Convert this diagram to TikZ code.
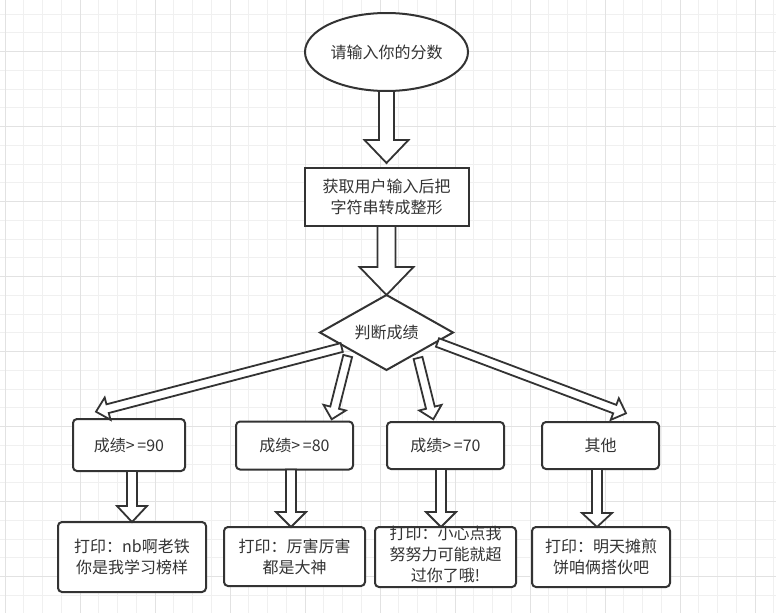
\documentclass[tikz,border=0pt]{standalone}
\usepackage{fontspec}
\setmainfont{Noto Sans CJK SC}
\usetikzlibrary{calc,positioning,shapes.geometric}

\definecolor{inkgray}{HTML}{333333}
\definecolor{gridminor}{HTML}{F0F0F0}
\definecolor{gridmajor}{HTML}{E2E2E2}

% hollow block arrow: from, to, half shaft, half head, head length
\newcommand\fatarrow[5]{%
  \coordinate (fa-base) at ($(#2)!#5!(#1)$);
  \draw[fatline] ($(#1)!#3!90:(#2)$) -- ($(fa-base)!#3!90:(#2)$)
    -- ($(fa-base)!#4!90:(#2)$) -- (#2) -- ($(fa-base)!#4!-90:(#2)$)
    -- ($(fa-base)!#3!-90:(#2)$) -- ($(#1)!#3!-90:(#2)$) -- cycle;
}

\begin{document}
\begin{tikzpicture}[
x=1pt, y=-1pt,
every node/.style={font=\fontsize{16}{21}\selectfont, text=inkgray, outer sep=0pt},
startoval/.style={ellipse, draw=inkgray, fill=white, line width=2pt, minimum width=163pt, minimum height=78pt, inner sep=0pt},
stepbox/.style={draw=inkgray, fill=white, line width=2pt, align=center, minimum width=164pt, minimum height=58pt, inner sep=0pt},
judgebox/.style={diamond, aspect=1.77, draw=inkgray, fill=white, line width=2pt, minimum width=133pt, minimum height=75pt, inner sep=0pt},
casebox/.style={draw=inkgray, fill=white, line width=2pt, rounded corners=4pt, minimum width=117pt, minimum height=47pt, inner sep=0pt},
printbox/.style={casebox, align=center, minimum width=141pt, minimum height=60pt},
fatline/.style={draw=inkgray, fill=white, line width=1.8pt, line join=miter},
gridline/.style={draw=gridminor, line width=1pt}
]
\useasboundingbox (0,0) rectangle (776,613);
\fill[white] (0,0) rectangle (776,613);

% background grid
\foreach \k in {0,...,41} \draw[gridline] ({5+18.75*\k},0) -- ({5+18.75*\k},613);
\foreach \k in {0,...,31} \draw[gridline] (0,{14+18.75*\k}) -- (776,{14+18.75*\k});
\foreach \k in {0,...,10} \draw[gridline, draw=gridmajor] ({5+75*\k},0) -- ({5+75*\k},613);
\foreach \k in {0,...,7} \draw[gridline, draw=gridmajor] (0,{51.5+75*\k}) -- (776,{51.5+75*\k});

\node[startoval] (ask) at (386.5,52) {请输入你的分数};
\node[stepbox, below=77pt of ask] (conv) {获取用户输入后把\\字符串转成整形};
\node[judgebox, below=69pt of conv] (judge) {判断成绩};

\node[casebox, minimum width=112pt, minimum height=52pt] (c90) at (129,445) {成绩>\,=90};
\node[casebox, minimum height=48pt] (c80) at (294.5,445.5) {成绩>\,=80};
\node[casebox] (c70) at (445.5,445.5) {成绩>\,=70};
\node[casebox] (cother) at (600.5,445.5) {其他};

\node[printbox, minimum width=148pt, minimum height=70pt] (p90) at (132,557) {打印：nb啊老铁\\你是我学习榜样};
\node[printbox, minimum height=59pt] (p80) at (294.5,556.5) {打印：厉害厉害\\都是大神};
\node[printbox] (p70) at (445.5,557) {\smash{\raisebox{-4pt}{\begin{tabular}{@{}c@{}}打印：小心点我\\努努力可能就超\\过你了哦!\end{tabular}}}};
\node[printbox, minimum width=138pt] (pother) at (601,557) {打印：明天摊煎\\饼咱俩搭伙吧};

% arrows
\coordinate (t1) at ($(conv.north)+(0,-5)$);
\fatarrow{ask.south}{t1}{7.5pt}{22pt}{23pt}
\fatarrow{conv.south}{judge.north}{9pt}{27pt}{28pt}

\coordinate (j90) at (341.7,347.5);
\coordinate (t90) at (96,411.7);
\coordinate (j80) at (347.7,356);
\coordinate (t80) at (331.7,419.3);
\coordinate (j70) at (418,358);
\coordinate (t70) at (433.3,419.3);
\coordinate (jother) at (437.5,342.5);
\coordinate (tother) at (626,413.3);
\fatarrow{j90}{t90}{4.5pt}{11.5pt}{12pt}
\fatarrow{j80}{t80}{4.5pt}{11.5pt}{12pt}
\fatarrow{j70}{t70}{4.5pt}{11.5pt}{12pt}
\fatarrow{jother}{tother}{4.5pt}{11.5pt}{12pt}

\coordinate (s90) at (c90.south -| p90.north);
\coordinate (s80) at ($(c80.south)+(-3.5,0)$);
\coordinate (e80) at ($(p80.north)+(-3.5,0)$);
\coordinate (s70) at ($(c70.south)+(-4.5,0)$);
\coordinate (e70) at ($(p70.north)+(-4.5,0)$);
\coordinate (sother) at ($(cother.south)+(-3.5,0)$);
\coordinate (eother) at ($(pother.north)+(-4,0)$);
\fatarrow{s90}{p90.north}{5pt}{15pt}{16pt}
\fatarrow{s80}{e80}{5pt}{15pt}{15pt}
\fatarrow{s70}{e70}{5pt}{15pt}{15pt}
\fatarrow{sother}{eother}{5pt}{15pt}{14pt}
\end{tikzpicture}
\end{document}
